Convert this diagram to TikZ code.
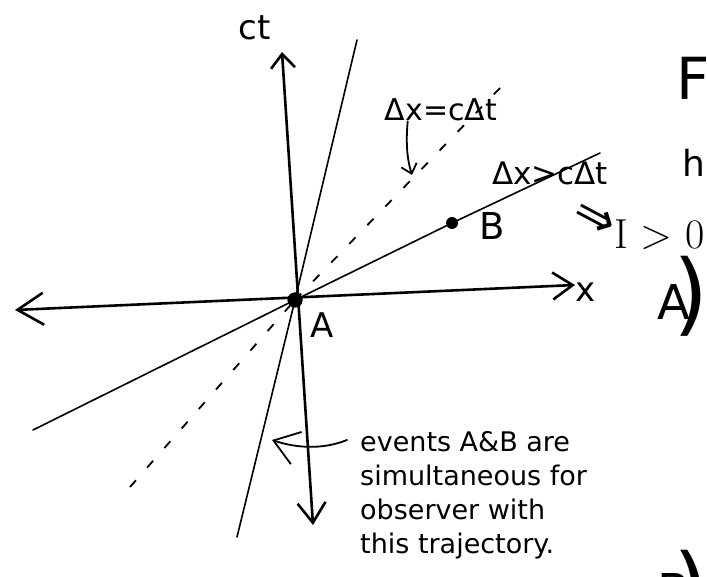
\documentclass[tikz,border=0pt]{standalone}
\usepackage{fontspec}
\setsansfont{DejaVu Sans}
\usepackage{graphicx}
\usetikzlibrary{positioning, arrows.meta}

\begin{document}
\begin{tikzpicture}[x=1pt, y=-1pt, >={Straight Barb[length=20pt, width=28pt]}]

\tikzset{
  axis/.style={line width=2.6pt, line cap=round},
  wline/.style={line width=1.6pt, line cap=round},
  lcone/.style={line width=1.8pt, dash pattern=on 9pt off 17pt},
  event/.style={circle, fill=black, inner sep=0pt},
  hand/.style={font=\sffamily\fontsize{34}{40}\selectfont, inner sep=0pt},
  note/.style={line width=1.8pt, line cap=round}
}

\useasboundingbox (0,0) rectangle (707,577);
\clip (0,0) rectangle (707,577);

% ==========================
% Axes
% ==========================
\coordinate (ctTop) at (282,52);
\coordinate (ctBot) at (313,525);
\coordinate (xLeft) at (15,310);
\coordinate (xRight) at (575,285);

\draw[axis, {Straight Barb[length=20pt, width=28pt]}-{Straight Barb[length=14pt, width=24pt]}] (ctBot) -- (ctTop);
\draw[axis, {Straight Barb[length=26pt, width=32pt]}-{Straight Barb[length=20pt, width=27pt]}] (xLeft) -- (xRight);

\node[hand] (ctLbl) at (255,28) {ct};
\node[hand] (xLbl) at (586,292) {x};

% ==========================
% World lines through A
% ==========================
\coordinate (obsTop) at (357,40);
\coordinate (obsBot) at (237,537);
\coordinate (spTop) at (600,153);
\coordinate (spBot) at (33,430);
\coordinate (lcTop) at (500,88);
\coordinate (lcBot) at (130,487);

\node[event, minimum size=15pt] (evA) at (295,300) {};
\node[event, minimum size=12pt] (evB) at (452,223) {};

\draw[wline] (obsBot) -- (evA.center) -- (obsTop);
\draw[wline] (spBot) -- (evA.center) -- (evB) -- (spTop);
\draw[lcone] (lcBot) -- (evA.center);
\draw[lcone] (evA.center) -- (lcTop);

\node[event, minimum size=15pt] at (evA) {};

\node[hand] (aLbl) at (322,325) {A};
\node[hand, font=\sffamily\fontsize{37}{40}\selectfont] (bLbl) at (492,226) {B};

% ==========================
% Interval labels
% ==========================
\node[hand, font=\sffamily\fontsize{30}{34}\selectfont] (eqLbl) at (441,110) {Δx=cΔt};
\node[hand, font=\sffamily\fontsize{31}{34}\selectfont] (gtLbl) at (550,173) {Δx>cΔt};

\coordinate (lcHit) at (412,175);
\draw[note, -{Straight Barb[length=9pt, width=16pt]}] ([xshift=23pt]eqLbl.south west) .. controls (405,150) and (409,165) .. (lcHit);

\node[hand, font=\sffamily\fontsize{50}{54}\selectfont, rotate=-28] (impl) at (594,220) {⇒};
\node[inner sep=0pt, anchor=base west, font=\rmfamily\fontsize{42}{46}\selectfont] (ivLbl) at (614,249) {I > 0};

% ==========================
% Note on simultaneity
% ==========================
\node[hand, font=\sffamily\fontsize{27}{34}\selectfont, align=left, anchor=north west] (noteTxt) at (360,431)
  {events A\&B are\\simultaneous for\\observer with\\this trajectory.};

\coordinate (noteTip) at (272,440);
\draw[note, -{Straight Barb[length=24pt, width=34pt]}] ([xshift=-13pt, yshift=-9pt]noteTxt.north west) .. controls (322,450) and (296,448) .. (noteTip);

% ==========================
% Text cut by the right edge
% ==========================
\node[hand, anchor=base west, font=\sffamily\fontsize{58}{60}\selectfont] (fTxt) at (676,100) {F};
\node[hand, anchor=base west, font=\sffamily\fontsize{36}{40}\selectfont] (hTxt) at (682,177) {h};
\node[hand, anchor=base west, font=\sffamily\fontsize{48}{50}\selectfont] (partA) at (657,320) {A};
\node[hand, anchor=base west, font=\sffamily\fontsize{90}{90}\selectfont] (parA) at (673,325) {)};
\node[hand, anchor=base west, font=\sffamily\fontsize{48}{50}\selectfont] (partB) at (657,608) {B};
\node[hand, anchor=base west, font=\sffamily\fontsize{90}{90}\selectfont] (parB) at (673,618) {)};

\end{tikzpicture}
\end{document}
